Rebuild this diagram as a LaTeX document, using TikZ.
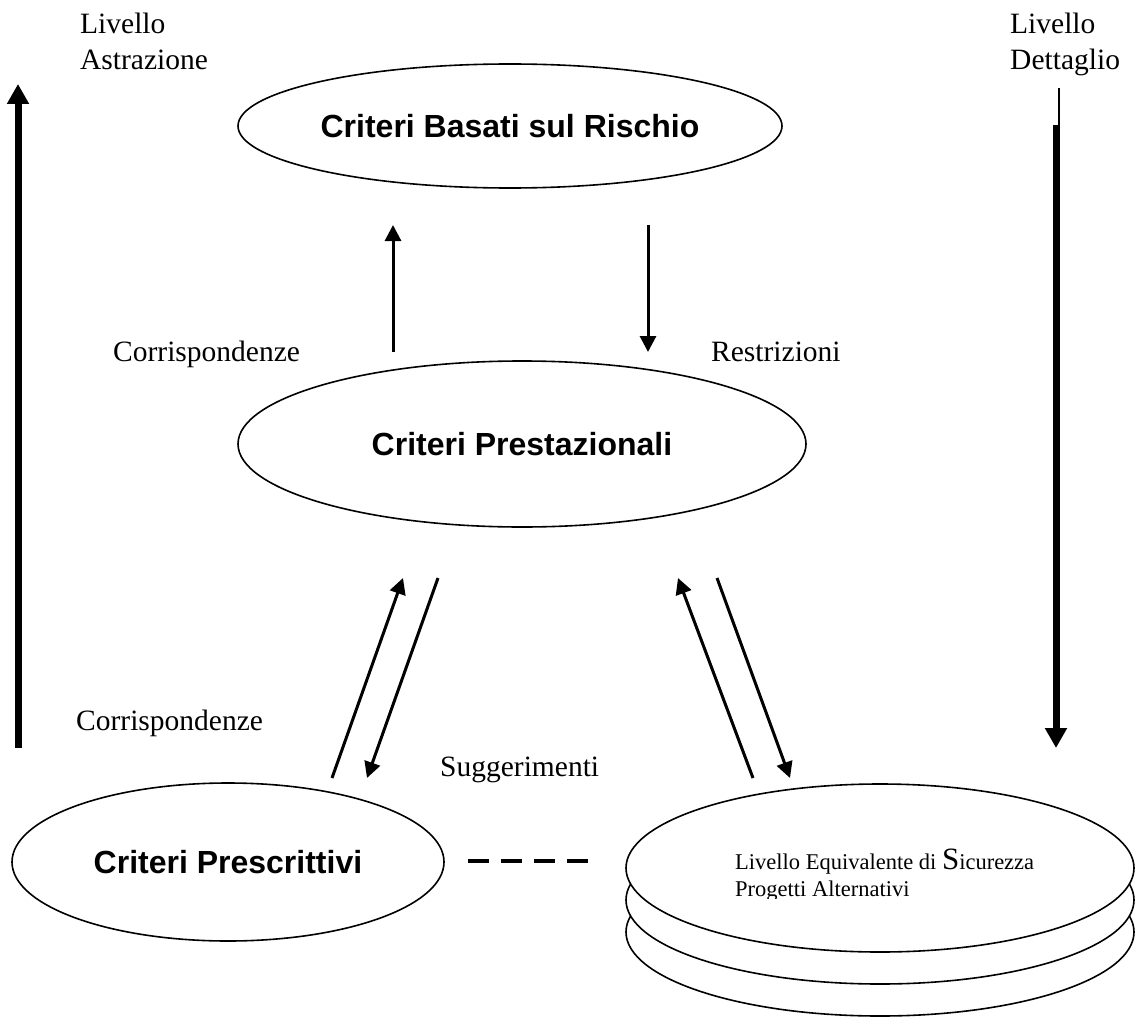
\documentclass[tikz,border=0pt]{standalone}
\usepackage{fontspec}
\setmainfont{Liberation Serif}
\setsansfont{Liberation Sans}
\usetikzlibrary{arrows.meta,shapes.geometric}

\begin{document}
\begin{tikzpicture}[x=1pt,y=-1pt,
  lbl/.style={font=\fontsize{29.5}{36}\selectfont, inner sep=0pt, align=left},
  small/.style={font=\fontsize{22.5}{27}\selectfont, inner sep=0pt, align=left},
  crit/.style={draw, ellipse, line width=1.6pt, fill=white, inner sep=0pt,
    font=\sffamily\bfseries\fontsize{32}{38}\selectfont},
  disc/.style={draw, ellipse, line width=1.6pt, fill=white, inner sep=0pt,
    minimum width=508pt, minimum height=168pt},
  link/.style={line width=3pt, -{Triangle[length=16pt,width=16pt]}},
  axis/.style={line width=7pt, -{Triangle[length=20pt,width=21pt]}},
]
\useasboundingbox (0,0) rectangle (1137,1019);

% level labels (anchored on the baseline of their last line)
\node[lbl, anchor=base west] (abs) at (80,70) {Livello\\Astrazione};
\node[lbl, anchor=base west] (det) at (1010,70) {Livello\\Dettaglio};

% main criteria
\node[crit, minimum width=544pt, minimum height=124pt] (risk) at (510,126) {Criteri Basati sul Rischio};
\node[crit, minimum width=568pt, minimum height=166pt] (perf) at (522,444) {Criteri Prestazionali};
\node[crit, minimum width=432pt, minimum height=158pt] (pres) at (228,862) {Criteri Prescrittivi};

% stacked alternative designs
\node[disc] (alt3) at (880,932) {};
\node[disc] (alt2) at (880,900) {};
\node[disc] (alt1) at (880,868) {};
\begin{scope}
  \clip (620,780) rectangle (1137,898);
  \node[small, anchor=base west] (altt) at (735,896)
    {Livello Equivalente di {\fontsize{31}{31}\selectfont S}icurezza\\Progetti Alternativi};
\end{scope}

% link labels
\node[lbl, anchor=base west] (c1) at (113,361) {Corrispondenze};
\node[lbl, anchor=base west] (r1) at (711,361) {Restrizioni};
\node[lbl, anchor=base west] (c2) at (76,730) {Corrispondenze};
\node[lbl, anchor=base west] (s1) at (440,776) {Suggerimenti};

% connector end points
\coordinate (u1a) at (393,352); \coordinate (u1b) at (393,225);
\coordinate (d1a) at (648,225); \coordinate (d1b) at (648,352);
\coordinate (u2a) at (332,778); \coordinate (u2b) at (403,578);
\coordinate (d2a) at (438,578); \coordinate (d2b) at (367,778);
\coordinate (u3a) at (753,778); \coordinate (u3b) at (678,578);
\coordinate (d3a) at (717,578); \coordinate (d3b) at (790,778);

\draw[link] (u1a) -- (u1b);
\draw[link] (d1a) -- (d1b);
\draw[link] (u2a) -- (u2b);
\draw[link] (d2a) -- (d2b);
\draw[link] (u3a) -- (u3b);
\draw[link] (d3a) -- (d3b);

% dashed equivalence
\coordinate (q1) at (468,861); \coordinate (q2) at (588,861);
\draw[line width=3.5pt, dash pattern=on 21pt off 12pt] (q1) -- (q2);

% abstraction / detail axes
\coordinate (la) at (18,748); \coordinate (lb) at (18,84);
\draw[axis] (la) -- (lb);
\coordinate (ra) at (1059,88); \coordinate (rb) at (1059,126);
\draw[line width=1.4pt] (ra) -- (rb);
\coordinate (rc) at (1056,125); \coordinate (rd) at (1056,748);
\draw[axis] (rc) -- (rd);
\end{tikzpicture}
\end{document}
